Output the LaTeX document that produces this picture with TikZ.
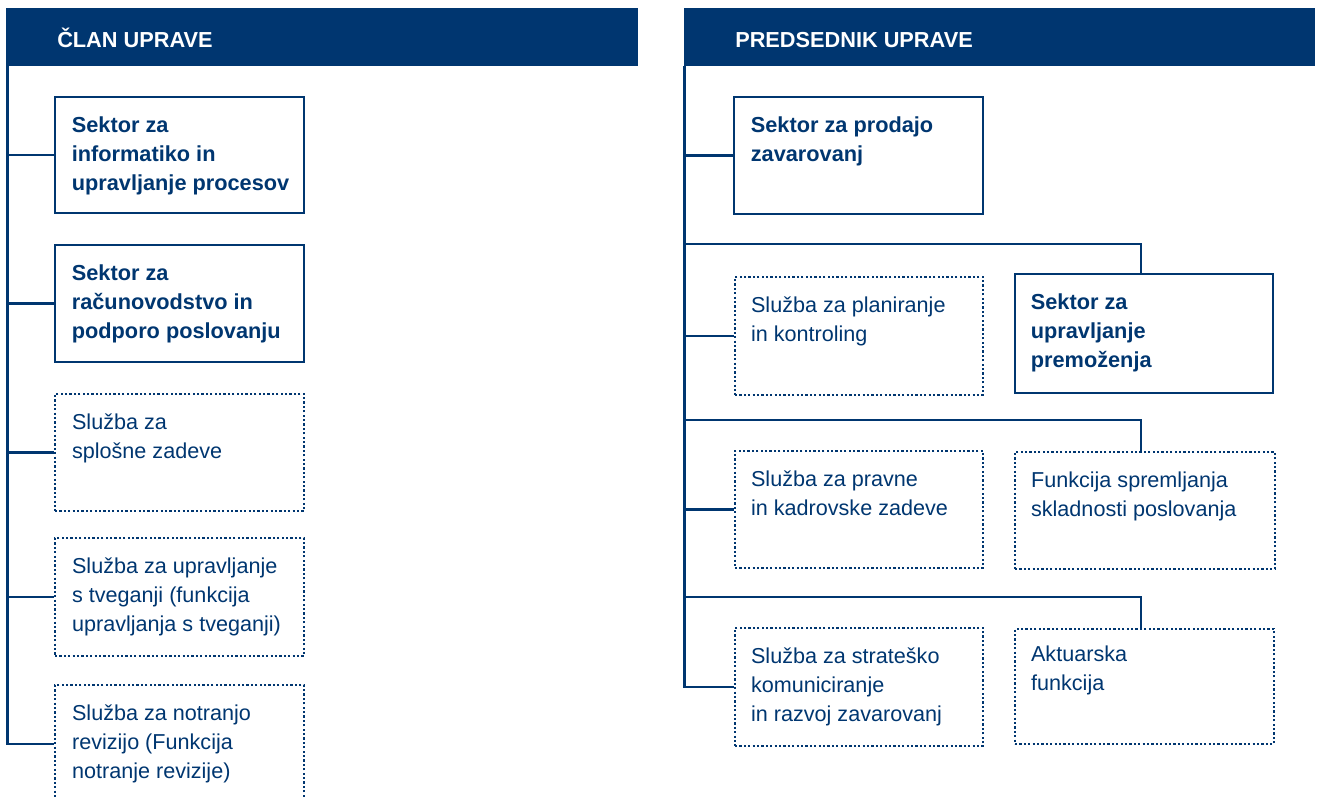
\documentclass[tikz,border=0pt]{standalone}
\usepackage{fontspec}
\setmainfont{Liberation Sans}
\usetikzlibrary{fit,calc}
\definecolor{ublue}{RGB}{0,54,112}
\begin{document}
\begin{tikzpicture}[x=0.75pt,y=-0.75pt,
  hdr/.style={fill=ublue, draw=none, inner sep=0pt},
  hdrtxt/.style={anchor=base west, text=white, inner sep=0pt, font=\bfseries\fontsize{16.3}{19}\selectfont},
  solidbox/.style={draw=ublue, line width=2.1pt, inner sep=0pt},
  dotbox/.style={draw=ublue, line width=1.8pt, dash pattern=on 1.6pt off 1.7pt, inner sep=0pt},
  conn/.style={draw=ublue, line width=2pt},
  btxt/.style={anchor=north west, inner sep=0pt, align=left, text=ublue, font=\bfseries\fontsize{16.3}{21.75}\selectfont},
  rtxt/.style={anchor=north west, inner sep=0pt, align=left, text=ublue, font=\fontsize{16.2}{21.75}\selectfont}]
\useasboundingbox (0,0) rectangle (1320,798);
\clip (0,0) rectangle (1320,798);

% headers
\node[hdr, fit={(6,8)(638,66)}] (hL) {};
\node[hdrtxt] (hLt) at (57,48) {ČLAN UPRAVE};
\node[hdr, fit={(683.5,8)(1315,66)}] (hR) {};
\node[hdrtxt] (hRt) at (735,48) {PREDSEDNIK UPRAVE};

% left boxes
\node[solidbox, fit={(55,97)(304,213)}] (b1) {};
\node[solidbox, fit={(55,245)(304,362)}] (b2) {};
\node[dotbox, fit={(55,394)(304,511)}] (b3) {};
\node[dotbox, fit={(55,538)(304,656)}] (b4) {};
\node[dotbox, fit={(55,685)(304,803)}] (b5) {};

\node[btxt] at ($(b1.north west)+(18,16)$) (b1t) {\strut Sektor za\\informatiko in\\upravljanje procesov};
\node[btxt] at ($(b2.north west)+(18,16)$) (b2t) {\strut Sektor za\\računovodstvo in\\podporo poslovanju};
\node[rtxt] at ($(b3.north west)+(18,16)$) (b3t) {\strut Služba za\\splošne zadeve};
\node[rtxt] at ($(b4.north west)+(18,16)$) (b4t) {\strut Služba za upravljanje\\s tveganji (funkcija\\upravljanja s tveganji)};
\node[rtxt] at ($(b5.north west)+(18,16)$) (b5t) {\strut Služba za notranjo\\revizijo (Funkcija\\notranje revizije)};

% left connectors
\coordinate (tL) at (7.5,66);
\draw[conn] (tL) |- (b5.west);
\draw[conn] (tL |- b1.west) -- (b1.west);
\draw[conn] (tL |- b2.west) -- (b2.west);
\draw[conn] (tL |- b3.west) -- (b3.west);
\draw[conn] (tL |- b4.west) -- (b4.west);

% right boxes
\node[solidbox, fit={(734,97)(983,214)}] (r1) {};
\node[dotbox, fit={(735,277)(983,395)}] (r2) {};
\node[solidbox, fit={(1015,274)(1273,393)}] (r2b) {};
\node[dotbox, fit={(735,451)(983,568)}] (r3) {};
\node[dotbox, fit={(1015,452)(1275,569)}] (r3b) {};
\node[dotbox, fit={(735,628)(983,746)}] (r4) {};
\node[dotbox, fit={(1015,629)(1274,744)}] (r4b) {};

\node[btxt] at ($(r1.north west)+(18,16)$) (r1t) {\strut Sektor za prodajo\\zavarovanj};
\node[rtxt] at ($(r2.north west)+(17,16)$) (r2t) {\strut Služba za planiranje\\in kontroling};
\node[btxt] at ($(r2b.north west)+(17,16)$) (r2bt) {\strut Sektor za\\upravljanje\\premoženja};
\node[rtxt] at ($(r3.north west)+(17,16)$) (r3t) {\strut Služba za pravne\\in kadrovske zadeve};
\node[rtxt] at ($(r3b.north west)+(17,16)$) (r3bt) {\strut Funkcija spremljanja\\skladnosti poslovanja};
\node[rtxt] at ($(r4.north west)+(17,16)$) (r4t) {\strut Služba za strateško\\komuniciranje\\in razvoj zavarovanj};
\node[rtxt] at ($(r4b.north west)+(17,13)$) (r4bt) {\strut Aktuarska\\funkcija};

% right connectors
\coordinate (tR) at (684.5,66);
\coordinate (jx) at (1141,0);
\coordinate (j1) at (684.5,244);
\coordinate (j2) at (684.5,420);
\coordinate (j3) at (684.5,597);
\draw[conn] (tR) |- (r4.west);
\draw[conn] (tR |- r1.west) -- (r1.west);
\draw[conn] (tR |- r2.west) -- (r2.west);
\draw[conn] (tR |- r3.west) -- (r3.west);
\draw[conn] (j1) -| (r2b.north -| jx);
\draw[conn] (j2) -| (r3b.north -| jx);
\draw[conn] (j3) -| (r4b.north -| jx);
\end{tikzpicture}
\end{document}
